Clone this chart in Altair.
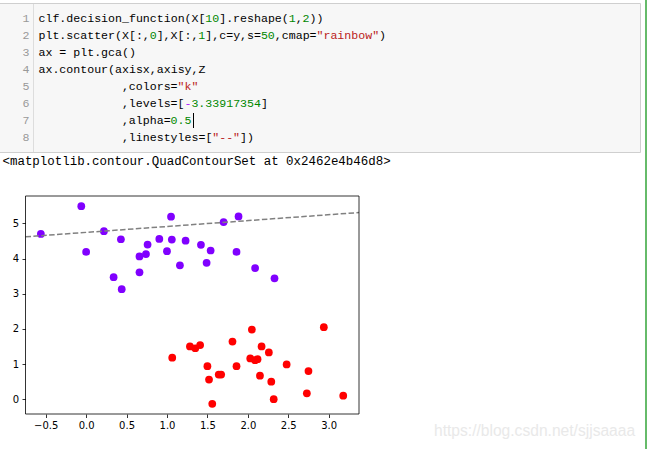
import altair as alt
import pandas as pd

# ---------------- scatter data ----------------
purple_x = [-0.56, -0.06, 0.00, 0.22, 0.43, 0.34, 0.44, 0.66, 0.66, 0.74, 0.76, 0.905, 1.00,
            1.05, 1.06, 1.16, 1.23, 1.42, 1.54, 1.49, 1.70, 1.885, 1.86, 2.09, 2.33]
purple_y = [4.70, 5.49, 4.19, 4.78, 4.55, 3.47, 3.13, 4.06, 3.61, 4.13, 4.40, 4.56, 4.21,
            5.19, 4.54, 3.81, 4.51, 4.39, 4.23, 3.88, 5.04, 5.20, 4.19, 3.73, 3.44]
red_x = [1.065, 1.284, 1.35, 1.41, 1.50, 1.52, 1.56, 1.64, 1.67, 1.81, 1.86, 2.05, 2.03,
         2.09, 2.12, 2.17, 2.15, 2.26, 2.29, 2.32, 2.48, 2.75, 2.73, 2.94, 3.18]
red_y = [1.18, 1.50, 1.45, 1.54, 0.94, 0.56, -0.13, 0.70, 0.70, 1.64, 0.94, 1.98, 1.16,
         1.11, 1.14, 1.50, 0.67, 1.33, 0.50, 0.00, 0.99, 0.80, 0.17, 2.05, 0.10]

# decision boundary contour (dashed) end points
contour_x = [-0.75, 3.375]
contour_y = [4.62, 5.31]

x_domain = [-0.75, 3.375]
y_domain = [-0.42, 5.78]
x_ticks = [-0.5, 0.0, 0.5, 1.0, 1.5, 2.0, 2.5, 3.0]
y_ticks = [0, 1, 2, 3, 4, 5]

class_names = ["0", "1"]
class_colors = ["#8000ff", "#ff0000"]

# ---------------- notebook text ----------------
code_lines = [
    [("clf.decision_function(X[", "plain"), ("10", "num"), ("].reshape(", "plain"), ("1", "num"),
     (",", "plain"), ("2", "num"), ("))", "plain")],
    [("plt.scatter(X[:,", "plain"), ("0", "num"), ("],X[:,", "plain"), ("1", "num"),
     ("],c=y,s=", "plain"), ("50", "num"), (",cmap=", "plain"), ('"rainbow"', "str"), (")", "plain")],
    [("ax = plt.gca()", "plain")],
    [("ax.contour(axisx,axisy,Z", "plain")],
    [(" " * 12, "plain"), (",colors=", "plain"), ('"k"', "str")],
    [(" " * 12, "plain"), (",levels=[", "plain"), ("-", "op"), ("3.33917354", "num"), ("]", "plain")],
    [(" " * 12, "plain"), (",alpha=", "plain"), ("0.5", "num")],
    [(" " * 12, "plain"), (",linestyles=[", "plain"), ('"--"', "str"), ("])", "plain")],
]
token_colors = {"plain": "#000000", "num": "#008800", "str": "#ba2121", "op": "#aa22ff"}
output_text = "<matplotlib.contour.QuadContourSet at 0x2462e4b46d8>"
watermark_text = "https://blog.csdn.net/sjjsaaaa"

rows = []
for i, toks in enumerate(code_lines, start=1):
    col = 0
    for t, kind in toks:
        if t.strip():
            rows.append({"line": i, "col": col, "text": t, "color": token_colors[kind]})
        col += len(t)
code_df = pd.DataFrame(rows)
lineno_df = pd.DataFrame({"line": list(range(1, len(code_lines) + 1)),
                          "text": [str(i) for i in range(1, len(code_lines) + 1)]})
one = pd.DataFrame({"a": [0]})

MONO = "Liberation Mono"
line_scale = alt.Scale(domain=[1, 8], range=[18.5, 137.5], nice=False, zero=False)
col_scale = alt.Scale(domain=[0, 100], range=[38.5, 38.5 + 695], nice=False, zero=False)

cell_bg = alt.Chart(one).mark_rect(fill="#f7f7f7", stroke="#cfcfcf", strokeWidth=1).encode(
    x=alt.value(-2), x2=alt.value(640.5), y=alt.value(3.5), y2=alt.value(152.5))
gutter = alt.Chart(one).mark_rule(color="#dddddd", strokeWidth=1).encode(
    x=alt.value(33.5), y=alt.value(4), y2=alt.value(152))
linenos = alt.Chart(lineno_df).mark_text(align="right", baseline="middle", font=MONO,
                                          fontSize=11.6, color="#999999").encode(
    x=alt.value(29.5),
    y=alt.Y("line:Q", scale=line_scale, axis=None),
    text="text:N")
code = alt.Chart(code_df).mark_text(align="left", baseline="middle", font=MONO, fontSize=11.6).encode(
    x=alt.X("col:Q", scale=col_scale, axis=None),
    y=alt.Y("line:Q", scale=line_scale, axis=None),
    text="text:N",
    color=alt.Color("color:N", scale=None))
cursor = alt.Chart(one).mark_rule(color="#000000", strokeWidth=1).encode(
    x=alt.value(193.5), y=alt.value(113), y2=alt.value(128))
output = alt.Chart(pd.DataFrame({"t": [output_text]})).mark_text(
    align="left", baseline="middle", font=MONO, fontSize=12.45, color="#000000").encode(
    x=alt.value(2.5), y=alt.value(160.5), text="t:N")
watermark = alt.Chart(pd.DataFrame({"t": [watermark_text]})).mark_text(
    align="left", baseline="middle", font="Liberation Sans", fontSize=15.6, color="#e9e9e9").encode(
    x=alt.value(434), y=alt.value(431), text="t:N")
green = alt.Chart(one).mark_rule(color="#66bb6a", strokeWidth=2).encode(
    x=alt.value(646), y=alt.value(0), y2=alt.value(449))

# ---------------- scatter panel ----------------
xs = alt.Scale(domain=x_domain, range=[25.5, 359], nice=False, zero=False)
ys = alt.Scale(domain=y_domain, range=[414, 196], nice=False, zero=False)
x_axis = alt.Axis(orient="bottom", offset=-35, values=x_ticks, format=".1f",
                  labelExpr="replace(datum.label, '-', '\u2212')", grid=False, domain=False,
                  tickSize=3.5, tickWidth=0.8, tickColor="#000000", labelFont="DejaVu Sans",
                  labelFontSize=10, labelColor="#000000", labelPadding=3, title=None)
y_axis = alt.Axis(orient="left", offset=-25.5, values=y_ticks, format="d", grid=False, domain=False,
                  tickSize=3.5, tickWidth=0.8, tickColor="#000000", labelFont="DejaVu Sans",
                  labelFontSize=10, labelColor="#000000", labelPadding=3.5, title=None)

pts = pd.DataFrame({
    "x": purple_x + red_x,
    "y": purple_y + red_y,
    "cls": ["0"] * len(purple_x) + ["1"] * len(red_x),
})
points = alt.Chart(pts).mark_circle(size=60, opacity=1).encode(
    x=alt.X("x:Q", scale=xs, axis=x_axis),
    y=alt.Y("y:Q", scale=ys, axis=y_axis),
    color=alt.Color("cls:N", scale=alt.Scale(domain=class_names, range=class_colors), legend=None))
contour = alt.Chart(pd.DataFrame({"x": contour_x, "y": contour_y})).mark_line(
    color="#808080", strokeWidth=1.5, strokeDash=[5.5, 2.4]).encode(
    x=alt.X("x:Q", scale=xs, axis=x_axis),
    y=alt.Y("y:Q", scale=ys, axis=y_axis))
frame = alt.Chart(pd.DataFrame({"x": [x_domain[0]], "x1": [x_domain[1]],
                                "y": [y_domain[0]], "y1": [y_domain[1]]})).mark_rect(
    fillOpacity=0, stroke="#000000", strokeWidth=0.8).encode(
    x=alt.X("x:Q", scale=xs, axis=x_axis), x2="x1:Q",
    y=alt.Y("y:Q", scale=ys, axis=y_axis), y2="y1:Q")
scatter = alt.layer(points, contour, frame)

chart = alt.layer(cell_bg, gutter, linenos, code, cursor, output, watermark, green, scatter).resolve_scale(
    x="independent", y="independent", color="independent").properties(
    width=648, height=449, padding=0, autosize="none", background="#ffffff").configure_view(strokeWidth=0)

chart.save("out.html", embed_options={"renderer": "svg", "actions": False})
